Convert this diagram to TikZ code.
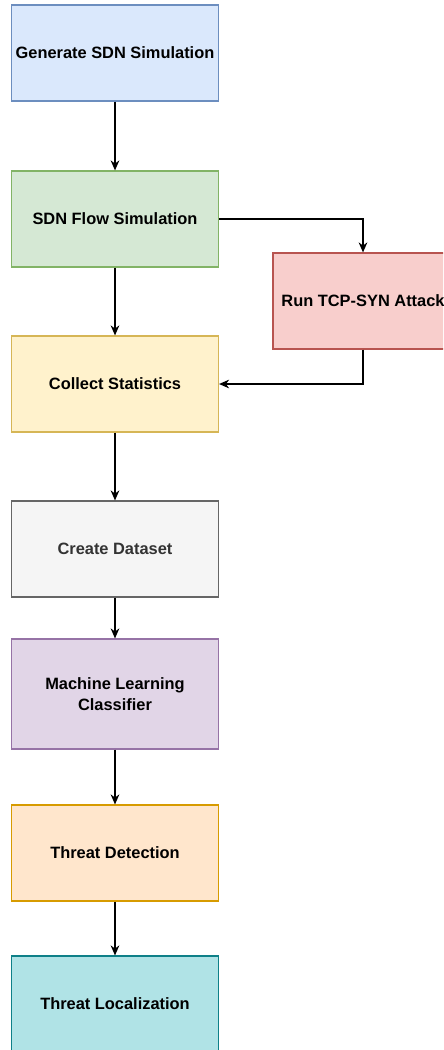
\documentclass[tikz,border=0pt]{standalone}
\usepackage{fontspec}
\setmainfont{Liberation Sans}
\usetikzlibrary{arrows.meta}

\definecolor{genfill}{HTML}{DAE8FC}\definecolor{gendraw}{HTML}{6C8EBF}
\definecolor{flowfill}{HTML}{D5E8D4}\definecolor{flowdraw}{HTML}{82B366}
\definecolor{synfill}{HTML}{F8CECC}\definecolor{syndraw}{HTML}{B85450}
\definecolor{statfill}{HTML}{FFF2CC}\definecolor{statdraw}{HTML}{D6B656}
\definecolor{datafill}{HTML}{F5F5F5}\definecolor{datadraw}{HTML}{666666}
\definecolor{datatext}{HTML}{333333}
\definecolor{mlfill}{HTML}{E1D5E7}\definecolor{mldraw}{HTML}{9673A6}
\definecolor{detfill}{HTML}{FFE6CC}\definecolor{detdraw}{HTML}{D79B00}
\definecolor{locfill}{HTML}{B0E3E6}\definecolor{locdraw}{HTML}{0E8088}

\begin{document}
\begin{tikzpicture}[node distance=124.5pt, line width=0.9pt,
    every node/.style={rectangle, font=\fontsize{12.3}{15.75}\selectfont\bfseries, align=center,
        minimum width=155.25pt, minimum height=72pt, inner sep=0pt},
    every path/.style={>={Stealth[length=7.5pt,width=6.5pt,inset=2.4pt]}}]
        \clip (0,0) rectangle (332.25pt,-787.5pt);
        \node (gen) [fill=genfill, draw=gendraw] at (86.25pt,-39.75pt) {Generate SDN Simulation};
        \node (flow) [below of=gen, fill=flowfill, draw=flowdraw] {SDN Flow Simulation};
        \node (attack) [right of=flow, xshift=61.5pt, yshift=-61.5pt, minimum width=135pt, fill=synfill, draw=syndraw] {Run TCP-SYN Attack};
        \node (stats) [below of=flow, yshift=0.75pt, fill=statfill, draw=statdraw] {Collect Statistics};
        \node (dataset) [below of=stats, yshift=0.75pt, fill=datafill, draw=datadraw, text=datatext] {Create Dataset};
        \node (ml) [below of=dataset, yshift=15.75pt, minimum height=82.5pt, fill=mlfill, draw=mldraw] {Machine Learning\\Classifier};
        \node (detect) [below of=ml, yshift=5.25pt, fill=detfill, draw=detdraw] {Threat Detection};
        \node (local) [below of=detect, yshift=11.25pt, fill=locfill, draw=locdraw] {Threat Localization};

        \draw[->] (gen) -- (flow);
        \draw[->] (flow) -- (stats);
        \draw[->] (flow.east) -| (attack.north);
        \draw[->] (attack.south) |- (stats.east);
        \draw[->] (stats) -- (dataset);
        \draw[->] (dataset) -- (ml);
        \draw[->] (ml) -- (detect);
        \draw[->] (detect) -- (local);
    \end{tikzpicture}
\end{document}
